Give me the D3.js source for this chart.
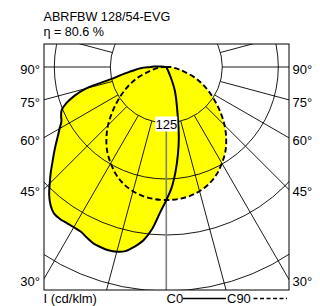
<!DOCTYPE html>
<html>
<head>
  <meta charset="utf-8">
  <script src="https://d3js.org/d3.v7.min.js"></script>
  <style>
    body { margin: 0; background: #fff; }
    text { font-family: "Liberation Sans", Arial, sans-serif; font-size: 13px; fill: #000; }
    .title { font-size: 12.6px; }
    .grid { fill: none; stroke: #000; stroke-width: 0.9; }
  </style>
</head>
<body>
  <script>

    // angles from nadir (degrees) and luminous intensities (cd/klm)
    var gammaC0 = [0, 2.5, 5, 7.5, 10, 12.5, 15, 17.5, 20, 22.5, 25, 27.5, 30, 32.5, 35, 37.5, 40,
                   42.5, 45, 47.5, 50, 52.5, 55, 57.5, 60, 62.5, 65, 67.5, 70, 72.5, 75, 77.5, 80,
                   82.5, 85, 87.5, 90, 92.5, 95, 97.5, 100];
    // C0 plane, left half (main lobe)
    var c0Left = [297, 326, 363, 390, 407, 421, 427, 429, 428, 426, 420, 414, 413, 413, 414, 412, 402,
                  387, 368, 350, 332, 316, 301, 287, 275, 264, 259, 253, 238, 216, 186, 128, 102,
                  83, 69, 55, 35, 28, 10, 2, 0];
    // C0 plane, right half
    var c0Right = [297, 270, 235, 198, 161, 121, 92, 72, 55, 32, 12, 4, 0, 0, 0, 0, 0,
                   0, 0, 0, 0, 0, 0, 0, 0, 0, 0, 0, 0, 0, 0, 0, 0,
                   0, 0, 0, 0, 0, 0, 0, 0];

    var gammaC90 = [0, 5, 10, 15, 20, 25, 30, 35, 40, 45, 50, 55, 60, 65, 70, 75, 80, 85, 90, 95];
    var c90 = [297, 296, 293, 287, 278, 265, 248, 230, 208, 184, 158, 133, 110, 88, 66, 42, 27, 16, 9, 0];

    var rings = [125, 250, 375, 500];
    var spokes = [15, 30, 45, 60, 75, 90, 105];
    var angleLabels = [90, 75, 60, 45, 30];

    var W = 320, H = 306;
    var box = {x0: 44, y0: 44, x1: 289, y1: 290};
    var cx = 166.3, cy = 67;

    var r = d3.scaleLinear().domain([0, 125]).range([0, 56]);

    var svg = d3.select("body").append("svg")
        .attr("width", W)
        .attr("height", H);

    svg.append("clipPath").attr("id", "plot")
      .append("rect")
        .attr("x", box.x0).attr("y", box.y0)
        .attr("width", box.x1 - box.x0).attr("height", box.y1 - box.y0);

    var plot = svg.append("g").attr("clip-path", "url(#plot)");

    function pt(g, v, side) {
      var a = g * Math.PI / 180;
      return [cx + side * r(v) * Math.sin(a), cy + r(v) * Math.cos(a)];
    }

    // closed outline: top centre -> left side down to nadir -> right side back up
    function outline(angles, left, right) {
      var pts = [];
      for (var i = angles.length - 1; i >= 0; i--) pts.push(pt(angles[i], left[i], -1));
      for (var j = 1; j < angles.length; j++) pts.push(pt(angles[j], right[j], 1));
      return pts;
    }

    var line = d3.line().curve(d3.curveCatmullRom.alpha(0.5));

    var c0Pts = outline(gammaC0, c0Left, c0Right);
    var c90Pts = outline(gammaC90, c90, c90);

    // yellow fill
    plot.append("path").attr("d", line(c0Pts)).attr("fill", "#ffff00");
    plot.append("path").attr("d", line(c90Pts)).attr("fill", "#ffff00");

    // rings
    plot.selectAll(".ring")
        .data(rings)
      .enter().append("circle")
        .attr("class", "grid")
        .attr("cx", cx).attr("cy", cy)
        .attr("r", function(d) { return r(d); });

    // spokes, starting at the first ring
    spokes.forEach(function(g) {
      [-1, 1].forEach(function(side) {
        var a = pt(g, 125, side), b = pt(g, 800, side);
        plot.append("line").attr("class", "grid")
          .attr("x1", a[0]).attr("y1", a[1])
          .attr("x2", b[0]).attr("y2", b[1]);
      });
    });

    // nadir line
    var n0 = pt(0, 125, 1), n1 = pt(0, 800, 1);
    plot.append("line")
      .attr("x1", n0[0]).attr("y1", n0[1]).attr("x2", n1[0]).attr("y2", n1[1])
      .attr("stroke", "#808080").attr("stroke-width", 1.6);

    // curves
    plot.append("path").attr("d", line(c90Pts))
      .attr("fill", "none").attr("stroke", "#000").attr("stroke-width", 1.9)
      .attr("stroke-dasharray", "5.5,3");
    plot.append("path").attr("d", line(c0Pts))
      .attr("fill", "none").attr("stroke", "#000").attr("stroke-width", 2);

    // ring label
    var lp = pt(0, 125, 1);
    svg.append("rect")
      .attr("x", lp[0] - 11).attr("y", lp[1] - 6.5)
      .attr("width", 22).attr("height", 15)
      .attr("fill", "#fff");
    svg.append("text")
      .attr("x", lp[0]).attr("y", lp[1] + 6)
      .attr("text-anchor", "middle")
      .text("125");

    // frame
    svg.append("rect")
      .attr("x", box.x0).attr("y", box.y0)
      .attr("width", box.x1 - box.x0).attr("height", box.y1 - box.y0)
      .attr("fill", "none").attr("stroke", "#000").attr("stroke-width", 1);

    // angle labels where the spokes meet the frame
    angleLabels.forEach(function(g) {
      var y = cy + (cx - box.x0) / Math.tan(g * Math.PI / 180);
      if (g === 90) y = cy;
      svg.append("text").attr("x", 40).attr("y", y + 7)
        .attr("text-anchor", "end").text(g + "°");
      svg.append("text").attr("x", 292.5).attr("y", y + 7)
        .text(g + "°");
    });

    // title
    svg.append("text").attr("class", "title").attr("x", 43.5).attr("y", 21).text("ABRFBW 128/54-EVG");
    svg.append("text").attr("class", "title").attr("x", 43.5).attr("y", 35.5).text("η = 80.6 %");

    // unit and legend
    svg.append("text").attr("x", 43.5).attr("y", 303).text("I (cd/klm)");
    svg.append("text").attr("x", 166.5).attr("y", 303).text("C0");
    svg.append("line").attr("x1", 183).attr("x2", 226).attr("y1", 298.5).attr("y2", 298.5)
      .attr("stroke", "#000").attr("stroke-width", 1.3);
    svg.append("text").attr("x", 227).attr("y", 303).text("C90");
    svg.append("line").attr("x1", 253.5).attr("x2", 287).attr("y1", 298.5).attr("y2", 298.5)
      .attr("stroke", "#000").attr("stroke-width", 1.3).attr("stroke-dasharray", "4,2.5");

  </script>
</body>
</html>
